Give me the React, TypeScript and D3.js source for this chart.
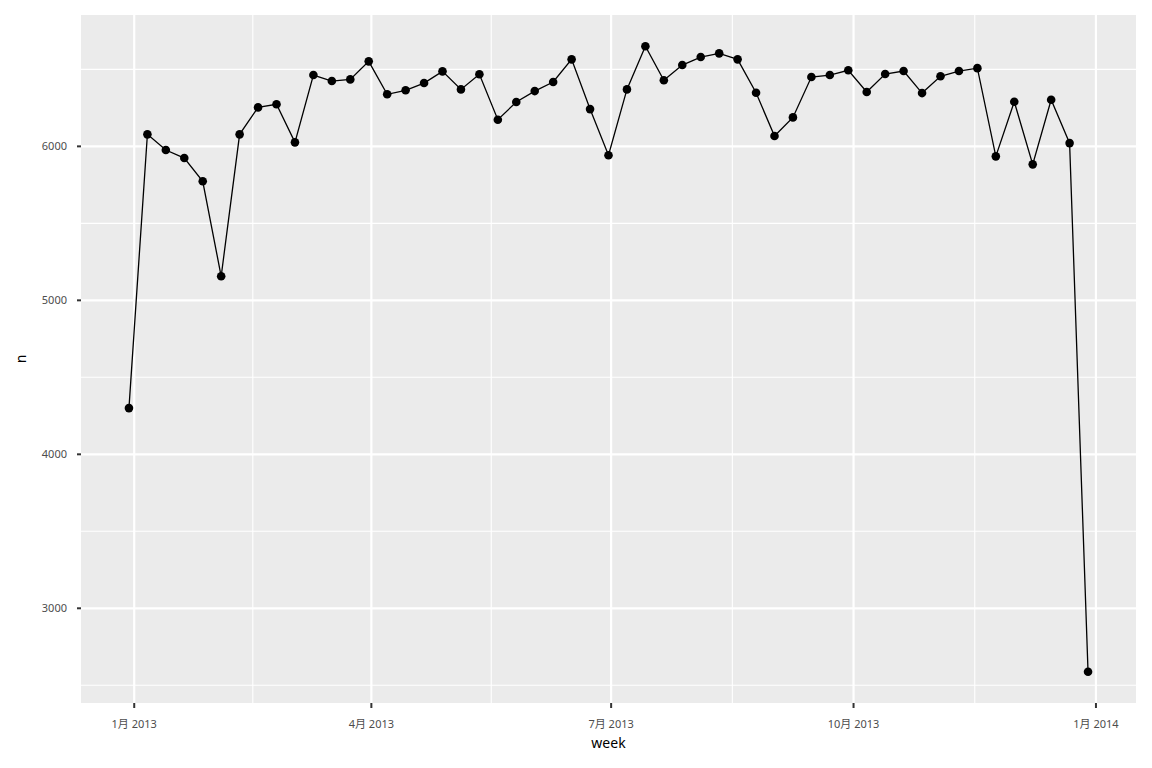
import React from "react";
import * as d3 from "d3";

const startWeek = "2012-12-30";
const counts: number[] = [
  4300, 6078, 5976, 5924, 5773, 5156, 6078, 6253, 6273, 6026,
  6463, 6424, 6435, 6552, 6338, 6364, 6411, 6487, 6370, 6468,
  6173, 6288, 6359, 6418, 6565, 6242, 5942, 6370, 6650, 6429,
  6528, 6580, 6604, 6565, 6348, 6067, 6188, 6450, 6463, 6494,
  6353, 6470, 6489, 6346, 6455, 6489, 6508, 5935, 6290, 5883,
  6303, 6021, 2588,
];
const xTickDates = ["2013-01-01", "2013-04-01", "2013-07-01", "2013-10-01", "2014-01-01"];
const xTickLabels = ["1月 2013", "4月 2013", "7月 2013", "10月 2013", "1月 2014"];
const yTicks = [3000, 4000, 5000, 6000];
const yMinor = [2500, 3500, 4500, 5500, 6500];

const W = 1152, H = 768;
const L = 81, R = 1136, T = 15, B = 703;
const font = "'Noto Sans', 'Noto Sans CJK SC', sans-serif";

export default function App() {
  const parse = d3.utcParse("%Y-%m-%d");
  const start = parse(startWeek)!;
  const data = counts.map((v, i) => ({ d: d3.utcDay.offset(start, 7 * i), v }));
  const xExt = d3.extent(data, (d) => +d.d) as [number, number];
  const xPad = (xExt[1] - xExt[0]) * 0.05;
  const x = d3.scaleUtc().domain([new Date(xExt[0] - xPad), new Date(xExt[1] + xPad)]).range([L, R]);
  const yExt = d3.extent(counts) as [number, number];
  const yPad = (yExt[1] - yExt[0]) * 0.05;
  const y = d3.scaleLinear().domain([yExt[0] - yPad, yExt[1] + yPad]).range([B, T]);
  const xt = xTickDates.map((s) => parse(s)!);
  const xMinor = xt.slice(0, -1).map((d, i) => new Date((+d + +xt[i + 1]) / 2));
  const line = d3.line<{ d: Date; v: number }>().x((d) => x(d.d)).y((d) => y(d.v));

  return (
    <svg width={W} height={H} style={{ position: "absolute", left: 0, top: 0, background: "#fff" }}>
      <rect x={L} y={T} width={R - L} height={B - T} fill="#EBEBEB" />
      {yMinor.map((v) => (
        <line key={"ym" + v} x1={L} x2={R} y1={y(v)} y2={y(v)} stroke="#fff" strokeWidth={1.1} />
      ))}
      {xMinor.map((d, i) => (
        <line key={"xm" + i} x1={x(d)} x2={x(d)} y1={T} y2={B} stroke="#fff" strokeWidth={1.1} />
      ))}
      {yTicks.map((v) => (
        <line key={"yg" + v} x1={L} x2={R} y1={y(v)} y2={y(v)} stroke="#fff" strokeWidth={2.2} />
      ))}
      {xt.map((d, i) => (
        <line key={"xg" + i} x1={x(d)} x2={x(d)} y1={T} y2={B} stroke="#fff" strokeWidth={2.2} />
      ))}
      <path d={line(data) || ""} fill="none" stroke="#000" strokeWidth={1.3} />
      {data.map((d, i) => (
        <circle key={i} cx={x(d.d)} cy={y(d.v)} r={4.3} fill="#000" />
      ))}
      {yTicks.map((v) => (
        <g key={"yt" + v}>
          <line x1={L - 4} x2={L} y1={y(v)} y2={y(v)} stroke="#333" strokeWidth={2} />
          <text x={L - 14} y={y(v)} dy="0.35em" textAnchor="end" fontSize={11} fill="#4D4D4D" fontFamily={font}>
            {v}
          </text>
        </g>
      ))}
      {xt.map((d, i) => (
        <g key={"xt" + i}>
          <line x1={x(d)} x2={x(d)} y1={B} y2={B + 5} stroke="#333" strokeWidth={2} />
          <text x={x(d)} y={B + 25} textAnchor="middle" fontSize={11} fill="#4D4D4D" fontFamily={font}>
            {xTickLabels[i]}
          </text>
        </g>
      ))}
      <text x={(L + R) / 2} y={748} textAnchor="middle" fontSize={14} fill="#000" fontFamily={font}>
        week
      </text>
      <text transform={`translate(26,${(T + B) / 2}) rotate(-90)`} textAnchor="middle" fontSize={14} fill="#000" fontFamily={font}>
        n
      </text>
    </svg>
  );
}
